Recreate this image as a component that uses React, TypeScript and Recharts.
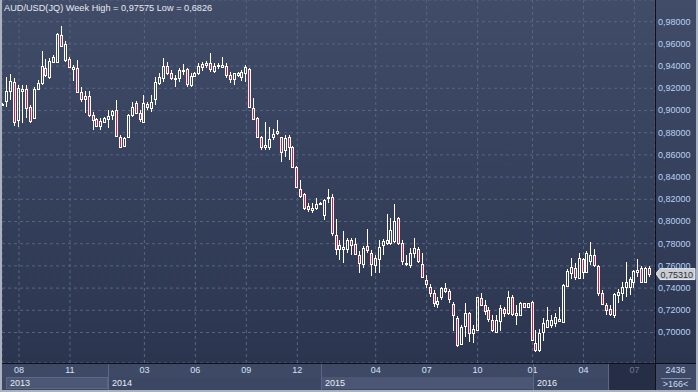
import React from 'react';
import { ComposedChart, Bar, XAxis, YAxis, CartesianGrid, ReferenceLine } from 'recharts';

// weekly AUD/USD candles (166 bars)
const opens = [
  0.906, 0.9086, 0.9175, 0.926, 0.891, 0.918, 0.919, 0.903, 0.893, 0.919,
  0.9245, 0.938, 0.9305, 0.944, 0.944, 0.968, 0.9455, 0.946, 0.937, 0.938,
  0.917, 0.913, 0.913, 0.896, 0.8925, 0.886, 0.89, 0.8925, 0.8955, 0.9005,
  0.8765, 0.868, 0.8765, 0.896, 0.9065, 0.898, 0.89, 0.9055, 0.902, 0.91,
  0.925, 0.929, 0.94, 0.934, 0.928, 0.929, 0.9355, 0.937, 0.923, 0.9315,
  0.934, 0.9415, 0.941, 0.9425, 0.9355, 0.94, 0.9395, 0.94, 0.932, 0.928,
  0.932, 0.93, 0.9335, 0.937, 0.902, 0.893, 0.876, 0.8675, 0.8675, 0.876,
  0.8815, 0.876, 0.864, 0.876, 0.867, 0.8495, 0.829, 0.8245, 0.814, 0.8105,
  0.812, 0.8158, 0.806, 0.821, 0.8223, 0.788, 0.775, 0.7755, 0.775, 0.783,
  0.78, 0.77, 0.762, 0.7775, 0.7715, 0.761, 0.766, 0.779, 0.781, 0.781,
  0.782, 0.803, 0.781, 0.762, 0.761, 0.772, 0.775, 0.7617, 0.7473, 0.7407,
  0.736, 0.7257, 0.7323, 0.74, 0.737, 0.7257, 0.7127, 0.6893, 0.7058, 0.7172,
  0.6998, 0.7022, 0.7308, 0.7248, 0.7203, 0.7112, 0.7007, 0.7106, 0.7209, 0.7172,
  0.7323, 0.7157, 0.7157, 0.7263, 0.7233, 0.7278, 0.6908, 0.6845, 0.7, 0.7052,
  0.7067, 0.7088, 0.7106, 0.7097, 0.7419, 0.7539, 0.7578, 0.7494, 0.7659, 0.7548,
  0.7647, 0.7698, 0.7599, 0.7352, 0.7247, 0.7208, 0.7157, 0.7337, 0.7358, 0.7406,
  0.7413, 0.7458, 0.7548, 0.7578, 0.7458, 0.7578,
];
const highs = [
  0.907, 0.93, 0.933, 0.929, 0.923, 0.923, 0.923, 0.905, 0.9215, 0.9275,
  0.9535, 0.946, 0.947, 0.95, 0.9695, 0.97575, 0.963, 0.948, 0.941, 0.9455,
  0.9215, 0.9175, 0.9175, 0.899, 0.8935, 0.893, 0.8945, 0.9005, 0.9005, 0.9095,
  0.878, 0.8765, 0.897, 0.908, 0.9085, 0.9005, 0.914, 0.908, 0.914, 0.93,
  0.9335, 0.947, 0.944, 0.9365, 0.932, 0.938, 0.942, 0.938, 0.9335, 0.935,
  0.9425, 0.944, 0.945, 0.9515, 0.9425, 0.9425, 0.9485, 0.9425, 0.935, 0.934,
  0.935, 0.9365, 0.941, 0.938, 0.911, 0.894, 0.877, 0.89, 0.8855, 0.883,
  0.8915, 0.8765, 0.878, 0.878, 0.868, 0.85, 0.8375, 0.826, 0.8165, 0.8165,
  0.821, 0.8175, 0.82, 0.829, 0.8245, 0.802, 0.7835, 0.791, 0.785, 0.785,
  0.785, 0.773, 0.7775, 0.793, 0.7745, 0.77, 0.783, 0.784, 0.807, 0.803,
  0.816, 0.8045, 0.7835, 0.77, 0.776, 0.785, 0.777, 0.7713, 0.7518, 0.7437,
  0.7383, 0.7317, 0.7413, 0.7445, 0.739, 0.7278, 0.7148, 0.7067, 0.7263, 0.7187,
  0.7067, 0.7323, 0.7359, 0.7293, 0.7233, 0.7157, 0.7157, 0.7248, 0.7233, 0.7377,
  0.7338, 0.7248, 0.7278, 0.7269, 0.7269, 0.7287, 0.7022, 0.7028, 0.713, 0.7232,
  0.7157, 0.7172, 0.7226, 0.7437, 0.7569, 0.7668, 0.7623, 0.7719, 0.7668, 0.7737,
  0.7818, 0.7749, 0.7608, 0.7382, 0.7268, 0.7247, 0.7358, 0.7388, 0.7458, 0.7638,
  0.7503, 0.7563, 0.7659, 0.7599, 0.7593, 0.7599,
];
const lows = [
  0.904, 0.9035, 0.9095, 0.886, 0.885, 0.8885, 0.893, 0.889, 0.892, 0.9185,
  0.923, 0.9305, 0.928, 0.9425, 0.943, 0.9575, 0.944, 0.938, 0.927, 0.916,
  0.908, 0.8975, 0.8945, 0.882, 0.885, 0.882, 0.8885, 0.884, 0.8915, 0.876,
  0.866, 0.867, 0.875, 0.894, 0.897, 0.89, 0.889, 0.9005, 0.899, 0.905,
  0.923, 0.926, 0.932, 0.9275, 0.9215, 0.926, 0.932, 0.9215, 0.9215, 0.93,
  0.932, 0.936, 0.938, 0.935, 0.9335, 0.937, 0.938, 0.929, 0.925, 0.923,
  0.93, 0.927, 0.926, 0.9025, 0.8915, 0.875, 0.864, 0.8645, 0.8645, 0.8735,
  0.878, 0.8535, 0.8585, 0.8555, 0.848, 0.83, 0.821, 0.8105, 0.809, 0.808,
  0.8105, 0.8155, 0.8015, 0.8165, 0.7865, 0.77, 0.7655, 0.7625, 0.7715, 0.77,
  0.77, 0.754, 0.758, 0.772, 0.751, 0.7535, 0.7535, 0.77, 0.779, 0.779,
  0.7805, 0.779, 0.761, 0.76, 0.7585, 0.767, 0.763, 0.7488, 0.7398, 0.7323,
  0.7233, 0.7218, 0.7293, 0.7353, 0.727, 0.7016, 0.6872, 0.6887, 0.6956, 0.6917,
  0.6908, 0.7013, 0.7239, 0.7157, 0.7097, 0.7007, 0.6992, 0.7016, 0.7142, 0.7157,
  0.7148, 0.7067, 0.7148, 0.7227, 0.7227, 0.6926, 0.6826, 0.6827, 0.692, 0.7046,
  0.7037, 0.7052, 0.7097, 0.7088, 0.7413, 0.7479, 0.7473, 0.7488, 0.7479, 0.7539,
  0.7608, 0.7587, 0.7328, 0.7247, 0.7157, 0.7148, 0.7127, 0.7268, 0.7286, 0.7316,
  0.7337, 0.7398, 0.7503, 0.7449, 0.7449, 0.7503,
];
const closes = [
  0.905, 0.9175, 0.9266, 0.89, 0.92, 0.9195, 0.902, 0.8905, 0.919, 0.9245,
  0.94, 0.932, 0.9445, 0.948, 0.9685, 0.958, 0.96, 0.939, 0.9395, 0.917,
  0.91, 0.91, 0.8955, 0.8915, 0.886, 0.8905, 0.8935, 0.895, 0.8998, 0.877,
  0.8675, 0.8755, 0.896, 0.9035, 0.8975, 0.892, 0.9065, 0.9035, 0.908, 0.926,
  0.93, 0.94, 0.9335, 0.929, 0.929, 0.9365, 0.9365, 0.924, 0.931, 0.934,
  0.94, 0.9395, 0.9425, 0.937, 0.94, 0.941, 0.941, 0.932, 0.928, 0.9335,
  0.9335, 0.9345, 0.939, 0.9035, 0.892, 0.876, 0.867, 0.869, 0.8745, 0.879,
  0.8795, 0.863, 0.875, 0.867, 0.8495, 0.831, 0.823, 0.812, 0.811, 0.8125,
  0.816, 0.817, 0.8195, 0.8225, 0.79, 0.775, 0.779, 0.777, 0.7835, 0.779,
  0.771, 0.7625, 0.776, 0.774, 0.762, 0.767, 0.777, 0.782, 0.7835, 0.7925,
  0.8, 0.781, 0.764, 0.763, 0.7715, 0.776, 0.764, 0.7497, 0.7437, 0.7353,
  0.7263, 0.7284, 0.7398, 0.737, 0.73, 0.7157, 0.6887, 0.7052, 0.7172, 0.6992,
  0.7028, 0.7317, 0.7248, 0.7197, 0.7118, 0.7022, 0.7112, 0.7218, 0.7172, 0.7323,
  0.7166, 0.7172, 0.7269, 0.7233, 0.7263, 0.6932, 0.6845, 0.6992, 0.709, 0.7112,
  0.7112, 0.7136, 0.7118, 0.7428, 0.7557, 0.7593, 0.7503, 0.7668, 0.7548, 0.7719,
  0.7698, 0.7608, 0.7352, 0.7256, 0.7202, 0.7166, 0.7346, 0.7367, 0.7406, 0.7458,
  0.7479, 0.7557, 0.7563, 0.7458, 0.7578, 0.7531,
];

const monthTicks = [4, 17, 36, 49, 62, 75, 95, 108, 121, 135, 148, 161];
const monthLabels = ['08', '11', '03', '06', '09', '12', '04', '07', '10', '01', '04', '07'];
const yearTicks = [0.69, 26.71, 81.05, 135.13];
const yearLabels = ['2013', '2014', '2015', '2016'];
const priceTicks = [0.7, 0.72, 0.74, 0.76, 0.78, 0.8, 0.82, 0.84, 0.86, 0.88, 0.9, 0.92, 0.94, 0.96, 0.98];

const FONT = '"Liberation Sans", Arial, sans-serif';
const RED = '#e0143c';

const data = opens.map((o, i) => ({
  i,
  open: o,
  high: highs[i],
  low: lows[i],
  close: closes[i],
  range: [lows[i], highs[i]],
}));

const lastClose = closes[closes.length - 1];

const Candle = (props: any) => {
  const { x, y, width, height, payload } = props;
  if (!payload) return null;
  const { open, close, high, low } = payload;
  const top = Math.min(y, y + height);
  const h = Math.abs(height);
  const k = h / (high - low);
  const cx = Math.floor(x + width / 2) + 0.5;
  const bTop = Math.round(top + (high - Math.max(open, close)) * k);
  let bBot = Math.round(top + (high - Math.min(open, close)) * k);
  if (bBot - bTop < 1) bBot = bTop + 1;
  const up = close >= open;
  return (
    <g>
      <line x1={cx} x2={cx} y1={Math.round(top)} y2={bTop} stroke="#fff" />
      <line x1={cx} x2={cx} y1={bBot} y2={Math.round(top + h)} stroke="#fff" />
      <rect x={cx - 1} y={bTop + 0.5} width={2} height={bBot - bTop} fill={up ? 'none' : RED} stroke="#fff" />
    </g>
  );
};

const PriceTick = ({ x, y, payload }: any) => (
  <text x={x + 3} y={y} dy={3} fill="#b8d2f2" fontSize={9} fontFamily={FONT}>
    {payload.value.toFixed(5).replace('.', ',')}
  </text>
);

const MonthTick = ({ x, y, payload }: any) => {
  const idx = monthTicks.indexOf(payload.value);
  const grey = idx === monthTicks.length - 1;
  return (
    <text x={x} y={y + 10} textAnchor="middle" fill={grey ? '#6c7a93' : '#d2e2f7'} fontSize={9} fontFamily={FONT}>
      {monthLabels[idx]}
    </text>
  );
};

const YearTick = ({ x, y, payload }: any) => {
  const idx = yearTicks.indexOf(payload.value);
  return (
    <text x={x + 4} y={y + 9} fill="#e8eef6" fontSize={9} fontFamily={FONT}>
      {yearLabels[idx]}
    </text>
  );
};

const PriceTag = (props: any) => {
  const vb = props.viewBox || {};
  const x = (vb.x || 0) + (vb.width || 0);
  const y = vb.y || 0;
  return (
    <g>
      <path
        d={`M${x + 1},${y} L${x + 5},${y - 5} L${x + 40},${y - 5} L${x + 40},${y + 6} L${x + 5},${y + 6} Z`}
        fill="#c9cdd3"
        stroke="#e8eaee"
      />
      <text x={x + 5.5} y={y + 4} fill="#2a2f38" fontSize={9} fontFamily={FONT}>
        {lastClose.toFixed(5).replace('.', ',')}
      </text>
    </g>
  );
};

const abs = (l: number, t: number, w: number, h: number, extra: React.CSSProperties = {}): React.CSSProperties => ({
  position: 'absolute',
  left: l,
  top: t,
  width: w,
  height: h,
  ...extra,
});

export default function App() {
  const grad = 'linear-gradient(#404c68, #2b3550)';
  return (
    <div style={abs(0, 0, 698, 392, { overflow: 'hidden', background: '#2f3954', fontFamily: FONT })}>
      <div style={abs(2, 0, 653, 363, { background: grad })} />
      <div style={abs(655, 0, 41, 363, { background: grad })} />
      <div style={abs(2, 363, 653, 14, { background: '#3e4965' })} />
      <div style={abs(2, 377, 653, 13, { background: '#3c4763' })} />
      <div style={abs(6, 377, 102, 12, { background: '#4b5774', boxSizing: 'border-box', border: '1px solid #5b6783' })} />
      <div style={abs(321, 377, 212, 12, { background: '#4a5673' })} />
      <div style={abs(609, 363, 46, 27, { background: '#252e45' })} />
      <div style={abs(655, 363, 41, 27, { background: '#3e4965' })} />

      <div style={abs(0, 0, 698, 392)}>
        <ComposedChart width={698} height={392} data={data} margin={{ top: 0, right: 0, bottom: 0, left: 2 }}>
          <CartesianGrid stroke="#59657f" strokeDasharray="3 3" />
          <XAxis
            dataKey="i"
            type="number"
            domain={[-0.332, 166.25]}
            allowDataOverflow
            ticks={monthTicks}
            interval={0}
            height={14}
            tickSize={0}
            tickMargin={0}
            axisLine={false}
            tickLine={false}
            tick={<MonthTick />}
          />
          <XAxis
            xAxisId="yr"
            dataKey="i"
            type="number"
            domain={[-0.332, 166.25]}
            allowDataOverflow
            ticks={yearTicks}
            interval={0}
            height={15}
            tickSize={0}
            tickMargin={0}
            axisLine={false}
            tickLine={false}
            tick={<YearTick />}
          />
          <YAxis
            orientation="right"
            width={43}
            type="number"
            domain={[0.67252, 0.99955]}
            allowDataOverflow
            ticks={priceTicks}
            interval={0}
            tickSize={0}
            tickMargin={0}
            axisLine={false}
            tickLine={false}
            tick={<PriceTick />}
          />
          <Bar dataKey="range" barSize={3} shape={<Candle />} isAnimationActive={false} />
          <ReferenceLine y={lastClose} stroke="none" label={{ content: <PriceTag /> }} />
        </ComposedChart>
      </div>

      {/* frame lines */}
      <div style={abs(655, 0, 1, 392, { background: '#0e1218' })} />
      <div style={abs(2, 363, 694, 1, { background: '#0e1218' })} />
      <div style={abs(108, 364, 1, 26, { background: '#5b6783' })} />
      <div style={abs(321, 364, 1, 26, { background: '#5b6783' })} />
      <div style={abs(533, 364, 1, 26, { background: '#5b6783' })} />
      <div style={abs(608, 364, 1, 26, { background: '#5b6783' })} />
      <div style={abs(0, 0, 2, 392, { background: '#aab2c0' })} />
      <div style={abs(696, 0, 2, 392, { background: '#aab2c0' })} />
      <div style={abs(0, 390, 698, 2, { background: '#aab2c0' })} />

      <div style={abs(4, 2, 400, 12, { color: '#e6eaf0', fontSize: 9.2, lineHeight: '12px', whiteSpace: 'nowrap' })}>
        AUD/USD(JQ) Week High = 0,97575 Low = 0,6826
      </div>

      <div style={abs(655, 365, 41, 11, { color: '#c8dcf6', fontSize: 9, lineHeight: '11px', textAlign: 'center' })}>2436</div>
      <div style={abs(661, 378, 30, 1, { background: '#7d8aa3' })} />
      <div style={abs(655, 379, 41, 11, { color: '#c8dcf6', fontSize: 9, lineHeight: '11px', textAlign: 'center' })}>&gt;166&lt;</div>
    </div>
  );
}
